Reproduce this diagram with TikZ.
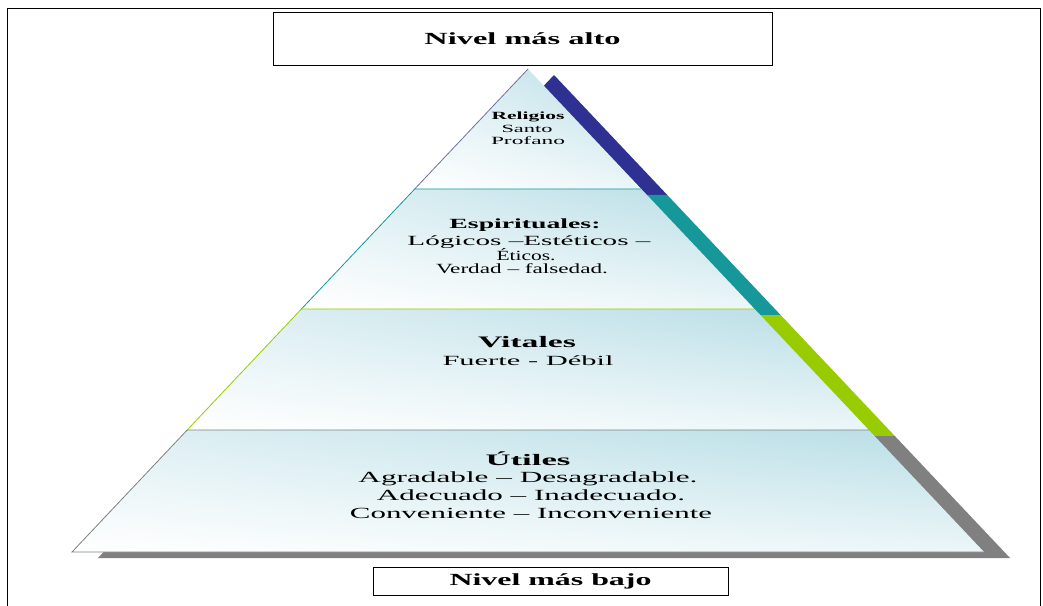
\documentclass[tikz,border=0pt]{standalone}
\usepackage{fontspec}
\setmainfont{Liberation Serif}
\usetikzlibrary{calc,shadings}
\definecolor{cnavy}{RGB}{46,49,146}
\definecolor{cnavyl}{RGB}{110,112,170}
\definecolor{cteal}{RGB}{22,152,154}
\definecolor{cgreen}{RGB}{153,204,0}
\definecolor{cgray}{RGB}{128,128,128}
\definecolor{shUR}{RGB}{182,221,229}
\definecolor{shUL}{RGB}{224,240,244}
\definecolor{shLR}{RGB}{236,246,248}
\newcommand{\fw}[2]{\resizebox{#1pt}{\height}{#2}}
\begin{document}
\begin{tikzpicture}[x=1pt,y=-1pt,
  lbl/.style={inner sep=0pt, anchor=base},
  boxlbl/.style={draw=black, line width=0.9pt, inner sep=0pt, font=\bfseries\fontsize{17}{20}\selectfont},
  edge/.style={line width=0.8pt},
  tiershade/.style={upper left=shUL, upper right=shUR, lower left=white, lower right=shLR}]
\useasboundingbox (0,0) rectangle (1043,605);
\fill[white] (0,0) rectangle (1043,605);
\draw[line width=1pt] (7,607) -- (7,8) -- (1040,8) -- (1040,607);

% pyramid geometry
\coordinate (A) at (528,69);
\coordinate (BL) at (72,552);
\coordinate (BR) at (984,552);
\coordinate (L1) at ($(A)!0.2484!(BL)$);
\coordinate (R1) at ($(A)!0.2484!(BR)$);
\coordinate (L2) at ($(A)!0.4969!(BL)$);
\coordinate (R2) at ($(A)!0.4969!(BR)$);
\coordinate (L3) at ($(A)!0.7474!(BL)$);
\coordinate (R3) at ($(A)!0.7474!(BR)$);
% shadow coordinates
\foreach \p in {A,BL,BR,L1,R1,L2,R2,L3,R3}{
  \coordinate (s\p) at ($(\p)+(26,6)$);
}
% shadow bands
\fill[cnavy] (sA) -- (sL1) -- (sR1) -- cycle;
\fill[cteal] (sL1) -- (sL2) -- (sR2) -- (sR1) -- cycle;
\fill[cgreen] (sL2) -- (sL3) -- (sR3) -- (sR2) -- cycle;
\fill[cgray] (sL3) -- (sBL) -- (sBR) -- (sR3) -- cycle;

% tiers
\begin{scope}
\clip (A) -- (L1) -- (R1) -- cycle;
\shade[tiershade] (L1|-A) rectangle (R1);
\end{scope}
\begin{scope}
\clip (L1) -- (L2) -- (R2) -- (R1) -- cycle;
\shade[tiershade] (L2|-L1) rectangle (R2);
\end{scope}
\begin{scope}
\clip (L2) -- (L3) -- (R3) -- (R2) -- cycle;
\shade[tiershade] (L3|-L2) rectangle (R3);
\end{scope}
\begin{scope}
\clip (L3) -- (BL) -- (BR) -- (R3) -- cycle;
\shade[tiershade] (BL|-L3) rectangle (BR);
\end{scope}

% tier outlines
\draw[edge, cnavyl] (L1) -- (A);
\draw[edge, cteal] (L2) -- (L1) -- (R1);
\draw[edge, cgreen] (L3) -- (L2) -- (R2);
\draw[edge, cgray] (BR) -- (BL) -- (L3) -- (R3);

% boxes
\node[boxlbl, minimum width=499pt, minimum height=53pt] (top) at (522.5,38.5) {\fw{196}{Nivel más alto}};
\node[boxlbl, minimum width=355pt, minimum height=28pt] (bot) at (550.5,581) {\fw{202}{Nivel más bajo}};

% tier 1
\node[lbl, font=\bfseries\fontsize{11}{13}\selectfont] (t1a) at (528,119) {\fw{73}{Religios}};
\node[lbl, font=\fontsize{11}{13}\selectfont] (t1b) at (527,132) {\fw{51}{Santo}};
\node[lbl, font=\fontsize{11}{13}\selectfont] (t1c) at (528,144) {\fw{74}{Profano}};
% tier 2
\node[lbl, font=\bfseries\fontsize{14}{15}\selectfont] (t2a) at (525,228) {\fw{151}{Espirituales:}};
\node[lbl, font=\fontsize{14}{15}\selectfont] (t2b) at (529,245) {\fw{243}{Lógicos –Estéticos –}};
\node[lbl, font=\fontsize{14}{15}\selectfont] (t2c) at (526,260) {\fw{59}{Éticos.}};
\node[lbl, font=\fontsize{14}{15}\selectfont] (t2d) at (522,273) {\fw{172}{Verdad – falsedad.}};
% tier 3
\node[lbl, font=\bfseries\fontsize{16}{18}\selectfont] (t3a) at (527,347) {\fw{98}{Vitales}};
\node[lbl, font=\fontsize{14}{16}\selectfont] (t3b) at (528,365) {\fw{171}{Fuerte - Débil}};
% tier 4
\node[lbl, font=\bfseries\fontsize{16}{18}\selectfont] (t4a) at (528,465) {\fw{85}{Útiles}};
\node[lbl, font=\fontsize{15.5}{18}\selectfont] (t4b) at (528,482) {\fw{339}{Agradable – Desagradable.}};
\node[lbl, font=\fontsize{15.5}{18}\selectfont] (t4c) at (531,500) {\fw{308}{Adecuado – Inadecuado.}};
\node[lbl, font=\fontsize{15.5}{18}\selectfont] (t4d) at (531,518) {\fw{362}{Conveniente – Inconveniente}};
\end{tikzpicture}
\end{document}
